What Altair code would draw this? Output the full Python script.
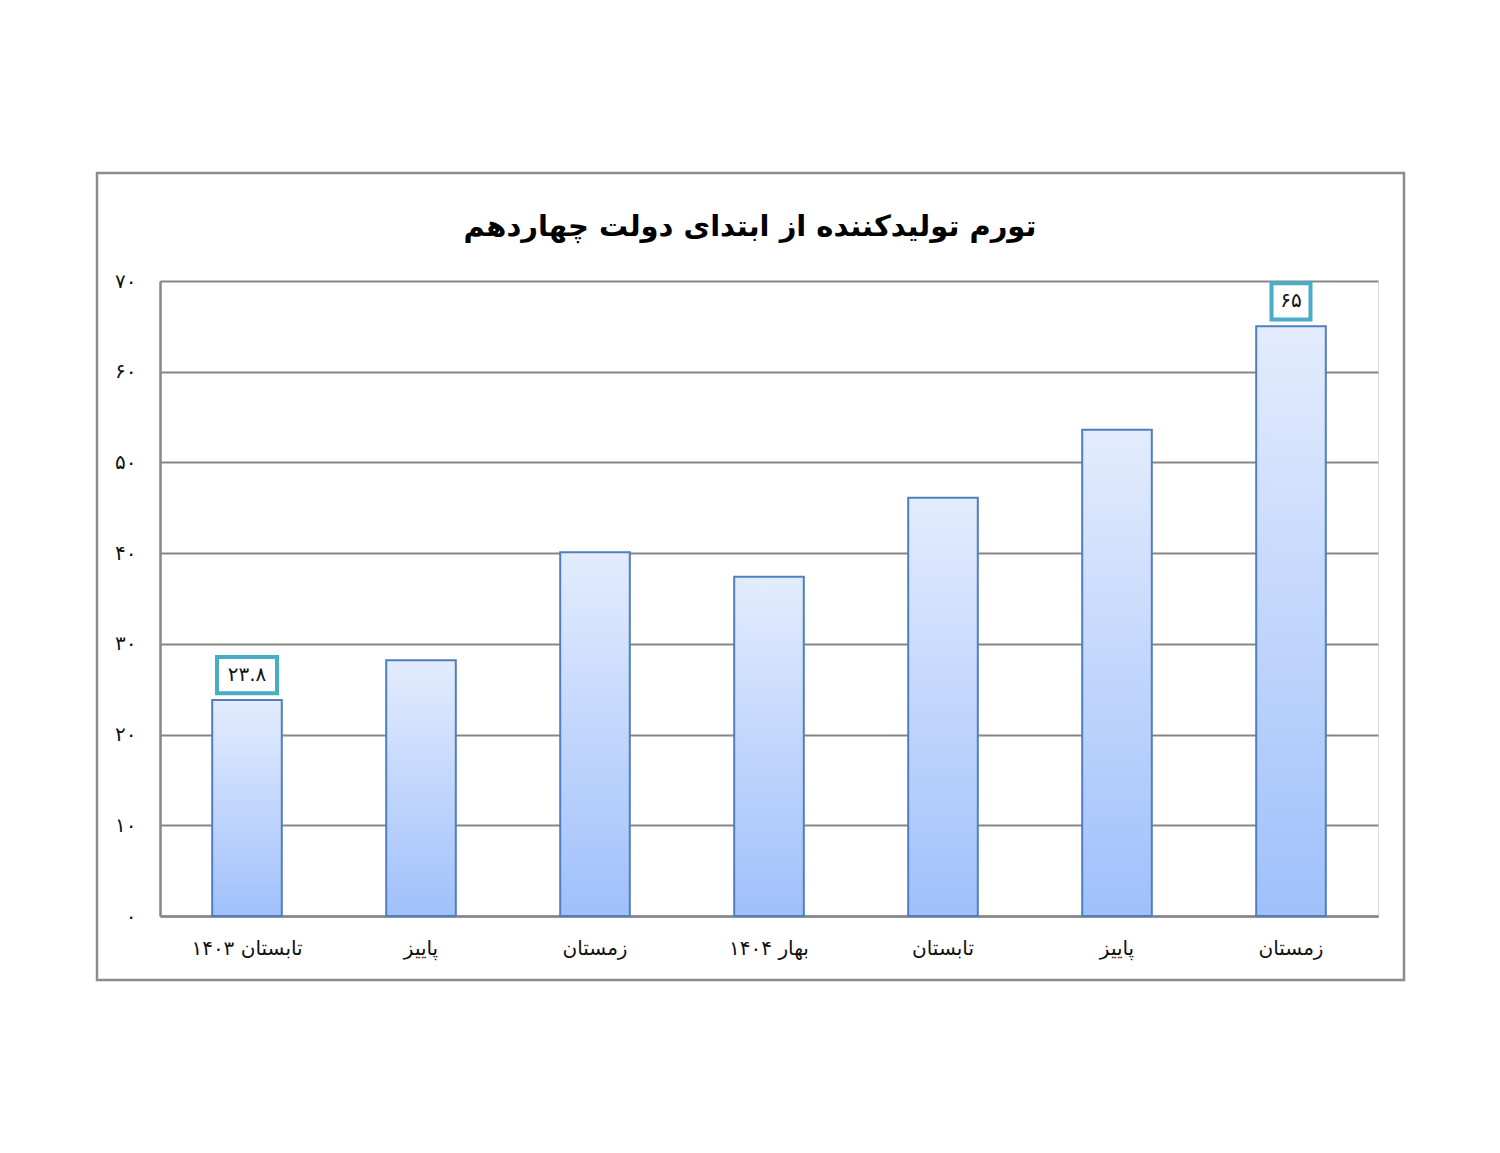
import altair as alt
import pandas as pd

# ---- data ----
categories = ["تابستان ۱۴۰۳", "پاییز", "زمستان", "بهار ۱۴۰۴", "تابستان", "پاییز", "زمستان"]
values = [23.8, 28.2, 40.1, 37.4, 46.1, 53.6, 65.0]
value_labels = ["۲۳.۸", "", "", "", "", "", "۶۵"]
y_tick_values = [0, 10, 20, 30, 40, 50, 60, 70]
y_tick_labels = ["۰", "۱۰", "۲۰", "۳۰", "۴۰", "۵۰", "۶۰", "۷۰"]
title_text = "تورم تولیدکننده از ابتدای دولت چهاردهم"

df = pd.DataFrame({
    "i": list(range(len(categories))),
    "cat": categories,
    "val": values,
    "lab": value_labels,
})

FONT = "DejaVu Sans"
GRID = "#868686"

x_label_expr = "[" + ",".join("'" + c + "'" for c in categories) + "][datum.value]"
y_label_expr = "{" + ",".join("'%d':'%s'" % (v, l) for v, l in zip(y_tick_values, y_tick_labels)) + "}[datum.value + '']"

x_enc = alt.X(
    "i:O",
    title=None,
    scale=alt.Scale(paddingInner=0.6, paddingOuter=0.3),
    axis=alt.Axis(
        labelExpr=x_label_expr, labelAngle=0, ticks=False, labelPadding=22,
        labelFontSize=20, labelFont=FONT, labelColor="#111111",
        domainColor=GRID, domainWidth=2.5, grid=False,
    ),
)
y_scale = alt.Scale(domain=[0, 70], nice=False)

base = alt.Chart(df)

border = alt.Chart(pd.DataFrame({"a": [0]})).mark_rect(
    fill="white", fillOpacity=0, stroke="#8c8c8c", strokeWidth=2.5
).encode(
    x=alt.value(-63), x2=alt.value(1244), y=alt.value(-108), y2=alt.value(699)
)

bars = base.mark_bar(
    color=alt.Gradient(
        gradient="linear",
        stops=[alt.GradientStop(color="#a0c0fb", offset=0),
               alt.GradientStop(color="#e3ecfd", offset=1)],
        x1=1, x2=1, y1=1, y2=0,
    ),
    stroke="#4f7fc0", strokeWidth=2,
).encode(
    x=x_enc,
    y=alt.Y(
        "val:Q", title=None, scale=y_scale,
        axis=alt.Axis(
            values=y_tick_values, labelExpr=y_label_expr, ticks=False,
            labelPadding=24, labelFontSize=20, labelFont=FONT, labelColor="#111111",
            domainColor=GRID, domainWidth=2.5, gridColor=GRID, gridWidth=2,
        ),
    ),
)

boxes = base.transform_filter("datum.lab != ''").transform_calculate(
    b="datum.val + 0.75", t="datum.val + 4.75", w="length(datum.lab) * 10.5 + 18"
).mark_bar(fill="white", stroke="#4bacc6", strokeWidth=4).encode(
    x=x_enc,
    y=alt.Y("b:Q", scale=y_scale),
    y2="t:Q",
    size=alt.Size("w:Q", scale=None, legend=None),
)

texts = base.transform_filter("datum.lab != ''").transform_calculate(
    m="datum.val + 2.75"
).mark_text(fontSize=20, font=FONT, color="#111111", baseline="middle").encode(
    x=x_enc,
    y=alt.Y("m:Q", scale=y_scale),
    text="lab:N",
)

chart = alt.layer(border, bars, boxes, texts).properties(
    width=1218,
    height=635,
    title=alt.TitleParams(
        text=title_text, fontSize=29, fontWeight="bold", font=FONT,
        color="#000000", anchor="middle", dx=-19, offset=-70,
    ),
    autosize=alt.AutoSizeParams(type="none"),
    padding={"left": 152, "top": 273, "right": 110, "bottom": 200},
).configure_view(stroke=None, strokeWidth=0).configure(background="white")

chart.save("out.html", embed_options={"renderer": "svg", "actions": False})
